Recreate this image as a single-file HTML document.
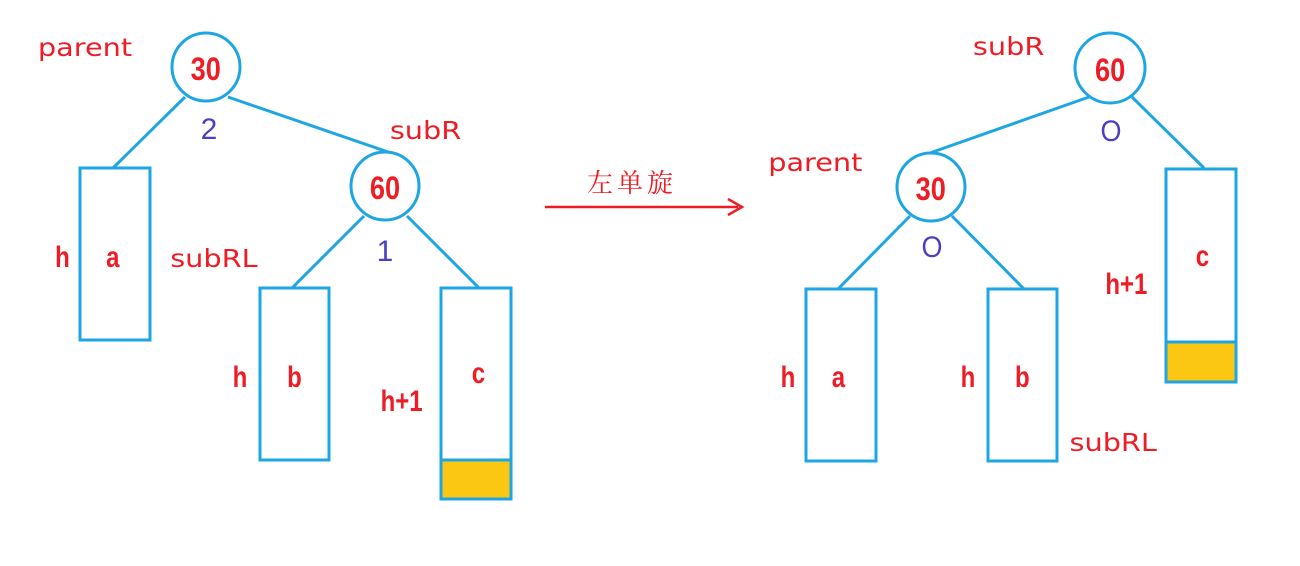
<!DOCTYPE html>
<html><head><meta charset="utf-8"><style>
html,body{margin:0;padding:0;background:#fff;width:1300px;height:566px;overflow:hidden}
.n{font-family:"Liberation Sans",sans-serif;font-weight:bold;fill:#ee1c25}
.l{font-family:"DejaVu Sans","Liberation Sans",sans-serif;fill:#ee1c25}
.p{font-family:"Liberation Sans",sans-serif;fill:#4b3fc2}
</style></head><body>
<svg width="1300" height="566" viewBox="0 0 1300 566" xmlns="http://www.w3.org/2000/svg">
<g stroke="#1ea6e4" stroke-width="3" fill="none">
<!-- left tree -->
<line x1="185" y1="97" x2="113" y2="168"/>
<line x1="228" y1="97" x2="388" y2="152"/>
<line x1="364" y1="216" x2="292" y2="288"/>
<line x1="407" y1="216" x2="479" y2="288"/>
<circle cx="206" cy="67" r="34" fill="#fff"/>
<circle cx="385" cy="186" r="34" fill="#fff"/>
<rect x="80" y="168" width="70" height="172"/>
<rect x="260" y="288" width="69" height="172"/>
<rect x="441" y="288" width="70" height="211"/>
<!-- right tree -->
<line x1="1089" y1="97" x2="930" y2="153"/>
<line x1="1132" y1="97" x2="1204" y2="168"/>
<line x1="910" y1="216" x2="838" y2="289"/>
<line x1="952" y1="216" x2="1024" y2="289"/>
<circle cx="1110" cy="68" r="35" fill="#fff"/>
<circle cx="931" cy="187" r="34" fill="#fff"/>
<rect x="806" y="289" width="70" height="172"/>
<rect x="988" y="289" width="69" height="172"/>
<rect x="1166" y="169" width="70" height="213"/>
</g>
<rect x="442.5" y="461" width="67" height="36.5" fill="#fcc712"/>
<line x1="441" y1="460" x2="511" y2="460" stroke="#1ea6e4" stroke-width="3"/>
<rect x="1167.5" y="343" width="67" height="37.5" fill="#fcc712"/>
<line x1="1166" y1="342" x2="1236" y2="342" stroke="#1ea6e4" stroke-width="3"/>
<!-- arrow -->
<line x1="545" y1="207" x2="738" y2="207" stroke="#ee1c25" stroke-width="2.5"/>
<polyline points="728,199 742,207 728,215" fill="none" stroke="#ee1c25" stroke-width="2.5"/>
<text x="632" y="192" text-anchor="middle" font-family="'Noto Serif CJK SC','Noto Sans CJK SC',serif" font-size="26" fill="#ee1c25" letter-spacing="4">左单旋</text>
<!-- numbers in nodes -->
<g class="n" font-size="32" text-anchor="middle" transform="scale(0.85,1)">
<text x="242" y="80">30</text>
<text x="453" y="199">60</text>
<text x="1306" y="81">60</text>
<text x="1095" y="200">30</text>
</g>
<!-- letters -->
<g class="n" font-size="30" text-anchor="middle" transform="scale(0.8,1)">
<text x="78" y="267">h</text>
<text x="141" y="267">a</text>
<text x="300" y="387">h</text>
<text x="368" y="387">b</text>
<text x="502" y="411">h+1</text>
<text x="598" y="383">c</text>
<text x="985" y="387">h</text>
<text x="1048" y="387">a</text>
<text x="1210" y="387">h</text>
<text x="1278" y="387">b</text>
<text x="1408" y="294">h+1</text>
<text x="1503" y="266">c</text>
</g>
<!-- labels -->
<g class="l" font-size="25" transform="scale(1.15,1)">
<text x="33" y="56">parent</text>
<text x="339" y="139">subR</text>
<text x="148" y="267">subRL</text>
<text x="846" y="55">subR</text>
<text x="668" y="171">parent</text>
<text x="930" y="451">subRL</text>
</g>
<g class="p" font-size="30" text-anchor="middle">
<text x="209" y="139">2</text>
<text x="385" y="261">1</text>
<text x="1111" y="141" transform="translate(1111,0) scale(0.9,1) translate(-1111,0)">O</text>
<text x="932" y="257" transform="translate(932,0) scale(0.9,1) translate(-932,0)">O</text>
</g>
</svg>
</body></html>
